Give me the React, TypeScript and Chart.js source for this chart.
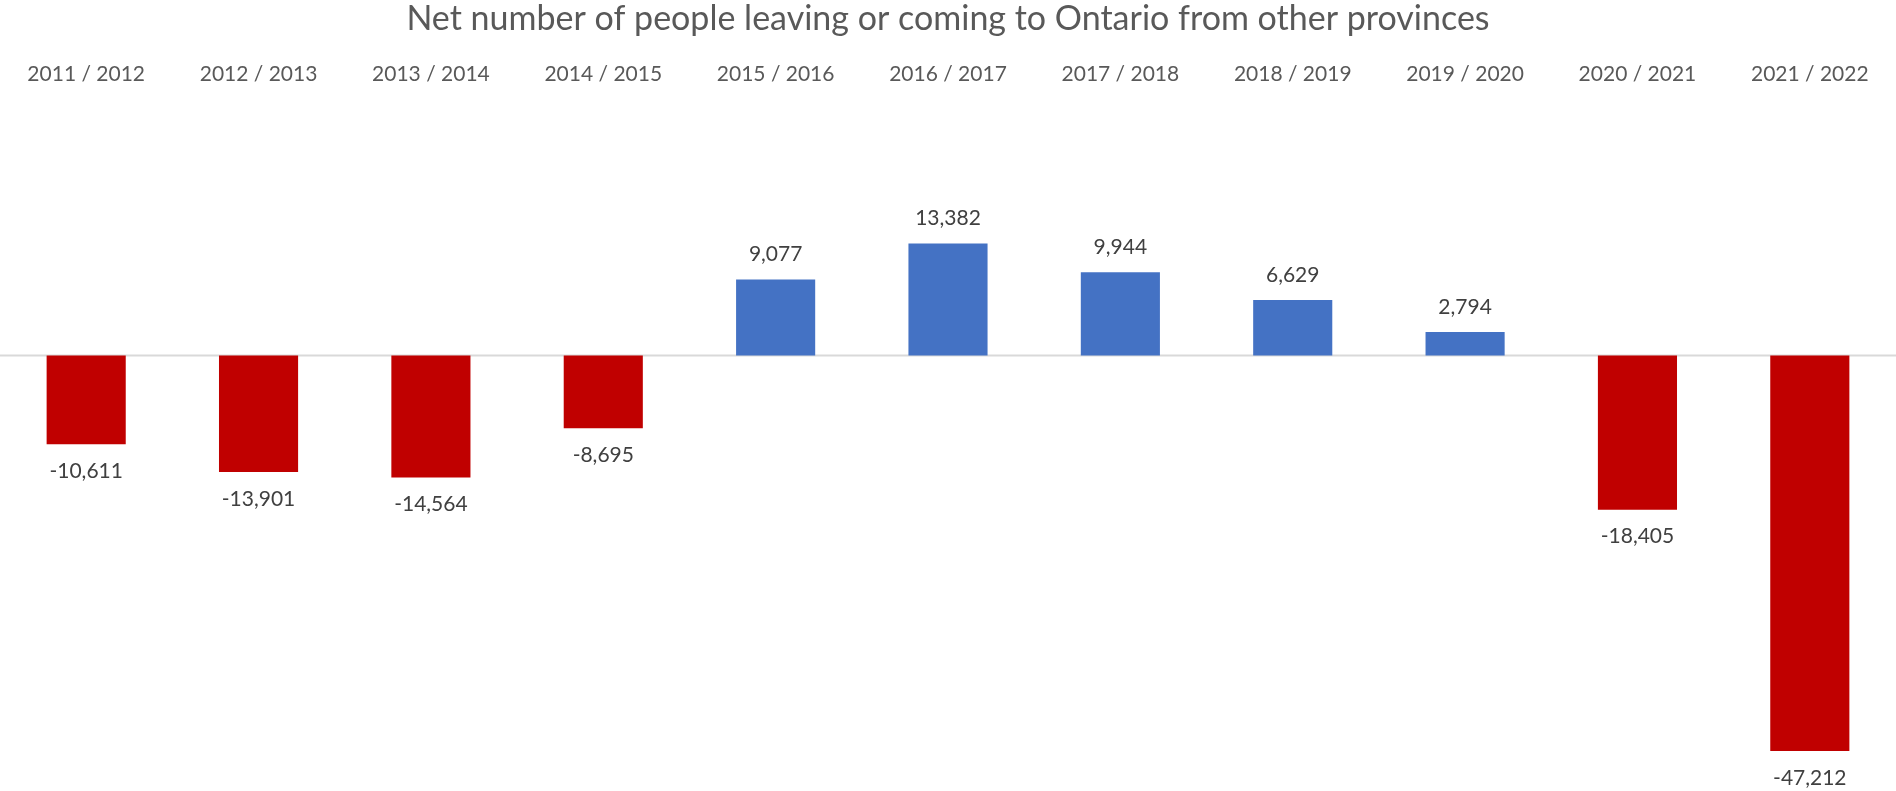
import React, { useEffect, useRef } from "react";
import { Chart, registerables } from "chart.js";

Chart.register(...registerables);

const categories = [
  "2011 / 2012", "2012 / 2013", "2013 / 2014", "2014 / 2015", "2015 / 2016",
  "2016 / 2017", "2017 / 2018", "2018 / 2019", "2019 / 2020", "2020 / 2021", "2021 / 2022",
];
const netMigration = [-10611, -13901, -14564, -8695, 9077, 13382, 9944, 6629, 2794, -18405, -47212];
const titleText = "Net number of people leaving or coming to Ontario from other provinces";

const RED = "#C00000";
const BLUE = "#4472C4";
const FONT = "Lato, 'Open Sans', sans-serif";

const fmt = (v: number) => v.toLocaleString("en-US");

const zeroLinePlugin = {
  id: "zeroLine",
  beforeDatasetsDraw(chart: any) {
    const { ctx, chartArea } = chart;
    const y = chart.scales.y.getPixelForValue(0);
    ctx.save();
    ctx.strokeStyle = "#d9d9d9";
    ctx.lineWidth = 2;
    ctx.beginPath();
    ctx.moveTo(chartArea.left, y);
    ctx.lineTo(chartArea.right, y);
    ctx.stroke();
    ctx.restore();
  },
};

const labelPlugin = {
  id: "barLabels",
  afterDatasetsDraw(chart: any) {
    const { ctx } = chart;
    const meta = chart.getDatasetMeta(0);
    const data = chart.data.datasets[0].data as number[];
    ctx.save();
    ctx.font = `21px ${FONT}`;
    ctx.fillStyle = "#404040";
    ctx.textAlign = "center";
    ctx.textBaseline = "middle";
    meta.data.forEach((bar: any, i: number) => {
      const v = data[i];
      const y = v >= 0 ? bar.y - 25 : bar.y + 27;
      ctx.fillText(fmt(v), bar.x, y);
    });
    ctx.restore();
  },
};

export default function App() {
  const ref = useRef<HTMLCanvasElement | null>(null);
  useEffect(() => {
    document.body.style.margin = "0";
    if (!ref.current) return;
    const chart = new Chart(ref.current, {
      type: "bar",
      data: {
        labels: categories,
        datasets: [
          {
            data: netMigration,
            backgroundColor: (c: any) => ((c.raw as number) < 0 ? RED : BLUE),
            borderWidth: 0,
            barPercentage: 0.459,
            categoryPercentage: 1,
          },
        ],
      },
      options: {
        animation: false,
        responsive: false,
        maintainAspectRatio: false,
        layout: { padding: 0 },
        plugins: {
          legend: { display: false },
          tooltip: { enabled: false },
          title: {
            display: true,
            text: titleText,
            color: "#595959",
            font: { family: FONT, size: 34, weight: "normal", lineHeight: 1.1 },
            padding: { top: 0, bottom: 8 },
          },
        },
        scales: {
          x: {
            position: "top",
            grid: { display: false, drawTicks: false },
            border: { display: false },
            ticks: {
              color: "#595959",
              font: { family: FONT, size: 21 },
              maxRotation: 0,
              autoSkip: false,
              padding: 13,
            },
            afterFit: (s: any) => {
              s.height = 54.8;
            },
          },
          y: {
            min: -52000,
            max: 30480,
            grid: { display: false, drawTicks: false },
            border: { display: false },
            ticks: { display: false },
            afterFit: (s: any) => {
              s.width = 0;
            },
          },
        },
      },
      plugins: [zeroLinePlugin, labelPlugin],
    });
    return () => chart.destroy();
  }, []);
  return (
    <div style={{ width: 1896, height: 791 }}>
      <canvas ref={ref} width={1896} height={791} style={{ display: "block" }} />
    </div>
  );
}
